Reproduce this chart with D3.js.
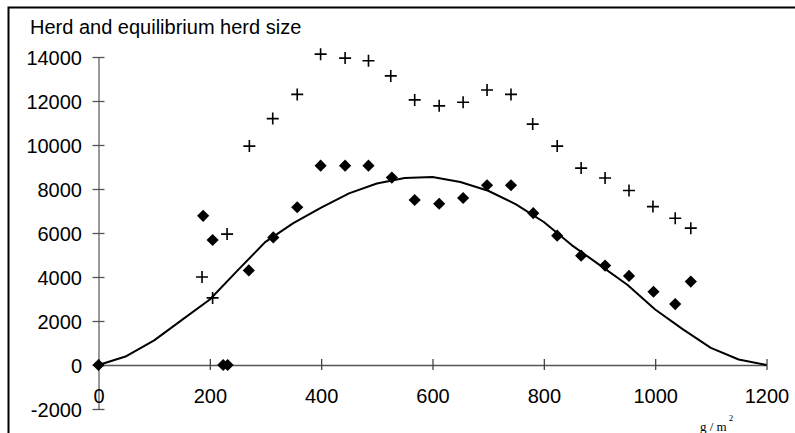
<!DOCTYPE html>
<html>
<head>
<meta charset="utf-8">
<script src="https://cdn.jsdelivr.net/npm/d3@7"></script>
<style>
html, body { margin: 0; padding: 0; background: #fff; }
svg { display: block; }
</style>
</head>
<body>
<svg id="chart" width="795" height="433"></svg>
<script>
// ---- Data ----
const herdX = [186, 205, 231, 271, 313, 357, 399, 443, 485, 525, 568, 612, 655, 698, 741, 780, 824, 867, 910, 953, 996, 1036, 1064];
const herdPlus = [4000, 3050, 5950, 9950, 11200, 12300, 14130, 13950, 13830, 13140, 12050, 11780, 11940, 12500, 12300, 10950, 9950, 8950, 8500, 7930, 7200, 6670, 6220];
const diamondX = [0, 188, 205, 224, 232, 270, 314, 357, 399, 443, 485, 527, 568, 612, 655, 698, 741, 781, 824, 867, 910, 953, 997, 1036, 1064];
const diamondY = [0, 6780, 5680, 0, 0, 4300, 5800, 7170, 9060, 9060, 9060, 8520, 7500, 7330, 7590, 8170, 8170, 6900, 5880, 4970, 4520, 4050, 3330, 2770, 3790];
const eqX = [0, 50, 100, 150, 200, 250, 300, 350, 400, 450, 500, 550, 600, 650, 700, 750, 800, 850, 900, 950, 1000, 1050, 1100, 1150, 1200];
const eqY = [0, 400, 1120, 2050, 2980, 4300, 5600, 6450, 7150, 7800, 8250, 8500, 8550, 8320, 7920, 7300, 6500, 5450, 4550, 3650, 2520, 1620, 780, 250, 0];
const xTicks = [0, 200, 400, 600, 800, 1000, 1200];
const yTicks = [-2000, 0, 2000, 4000, 6000, 8000, 10000, 12000, 14000];
const title = "Herd and equilibrium herd size";

// ---- Drawing ----
const svg = d3.select("#chart");
const font = "'Liberation Sans', Arial, sans-serif";

const x = d3.scaleLinear().domain([0, 1200]).range([98.5, 766.5]);
const y = d3.scaleLinear().domain([-2000, 14000]).range([409, 57]);

// frame
svg.append("rect")
  .attr("x", 8.5).attr("y", 7.5).attr("width", 800).attr("height", 440)
  .attr("fill", "none").attr("stroke", "#000").attr("stroke-width", 2);

// title
svg.append("text")
  .attr("x", 30).attr("y", 34)
  .attr("font-family", font).attr("font-size", 20).attr("fill", "#000")
  .text(title);

// y axis
const yAxis = svg.append("g")
  .attr("transform", `translate(${x(0)},0)`)
  .call(d3.axisLeft(y).tickValues(yTicks).tickSize(6).tickSizeOuter(0).tickFormat(d => String(d)));
yAxis.select(".domain").attr("stroke", "#808080").attr("stroke-width", 1.6);
yAxis.selectAll(".tick line").attr("x1", -6).attr("x2", 6).attr("stroke", "#555").attr("stroke-width", 1.3);
yAxis.selectAll(".tick text")
  .attr("x", -16.5).attr("dy", "0.36em")
  .attr("font-family", font).attr("font-size", 20).attr("fill", "#000");

// x axis at y=0
const xAxis = svg.append("g")
  .attr("transform", `translate(0,${y(0)})`)
  .call(d3.axisBottom(x).tickValues(xTicks).tickSize(6).tickSizeOuter(0).tickFormat(d => String(d)));
xAxis.select(".domain").attr("stroke", "#555").attr("stroke-width", 1.6);
xAxis.selectAll(".tick line").attr("y1", -6).attr("y2", 5).attr("stroke", "#444").attr("stroke-width", 1.3);
xAxis.selectAll(".tick text")
  .attr("y", 38).attr("dy", 0)
  .attr("font-family", font).attr("font-size", 20).attr("fill", "#000");

// unit label
const unit = svg.append("text")
  .attr("x", 700).attr("y", 431)
  .attr("font-family", "'Liberation Serif', 'Times New Roman', serif")
  .attr("font-size", 13).attr("fill", "#000");
unit.append("tspan").text("g / m");
unit.append("tspan").attr("font-size", 9).attr("dy", -10).attr("dx", 2).text("2");

// equilibrium line
const eqData = eqX.map((v, i) => [v, eqY[i]]);
svg.append("path")
  .datum(eqData)
  .attr("fill", "none").attr("stroke", "#000").attr("stroke-width", 2)
  .attr("stroke-linejoin", "round")
  .attr("d", d3.line().x(d => x(d[0])).y(d => y(d[1])));

// diamonds
const diamondData = diamondX.map((v, i) => [v, diamondY[i]]);
svg.append("g").selectAll("path")
  .data(diamondData).join("path")
  .attr("transform", d => `translate(${x(d[0])},${y(d[1])}) rotate(45)`)
  .attr("d", d3.symbol(d3.symbolSquare, 74)())
  .attr("fill", "#000");

// plus markers
const plusData = herdX.map((v, i) => [v, herdPlus[i]]);
svg.append("g").selectAll("path")
  .data(plusData).join("path")
  .attr("transform", d => `translate(${x(d[0])},${y(d[1])})`)
  .attr("d", "M-6,0H6M0,-6V6")
  .attr("stroke", "#000").attr("stroke-width", 1.6).attr("fill", "none");
</script>
</body>
</html>
